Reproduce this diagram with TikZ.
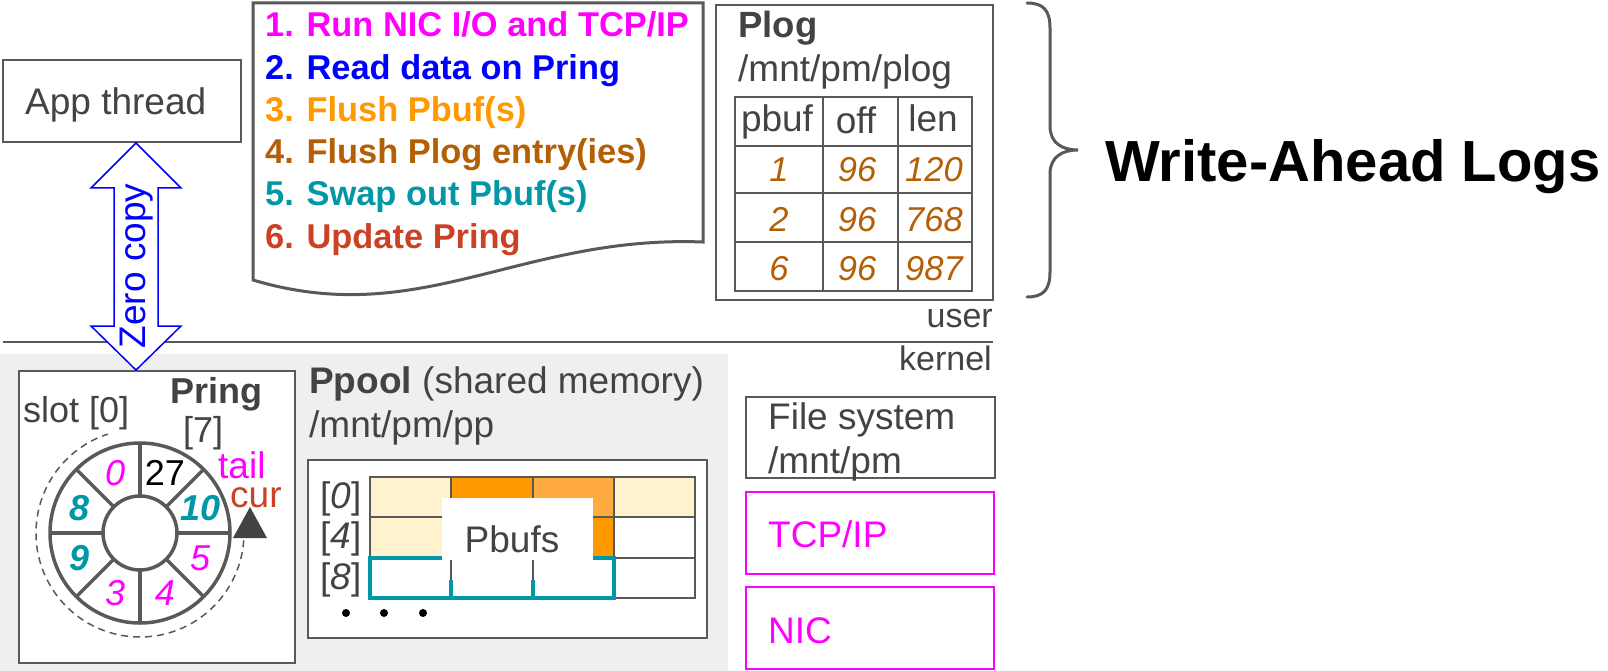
\documentclass[tikz,border=0pt]{standalone}
\usepackage{fontspec}
\setmainfont{Liberation Sans}
\usetikzlibrary{positioning}

\definecolor{txtgray}{HTML}{434343}
\definecolor{linegray}{HTML}{595959}
\definecolor{kernbg}{HTML}{EFEFEF}
\definecolor{pmag}{HTML}{FF00FF}
\definecolor{pblue}{HTML}{0000FF}
\definecolor{porange}{HTML}{FF9900}
\definecolor{plorange}{HTML}{FFAB40}
\definecolor{pcream}{HTML}{FFF2CC}
\definecolor{pbrown}{HTML}{B45F06}
\definecolor{pteal}{HTML}{0097A7}
\definecolor{pred}{HTML}{CC4125}

\begin{document}
\begin{tikzpicture}[
    x=1pt, y=-1pt,
    box/.style={draw=linegray, line width=2pt, fill=white, inner sep=0pt},
    nicbox/.style={draw=pmag, line width=2pt, inner sep=0pt,
      minimum width=248pt, minimum height=82pt},
    txt/.style={font=\fontsize{37}{44}\selectfont, text=txtgray,
      inner sep=0pt, anchor=base west},
    steptxt/.style={font=\fontsize{34.4}{42}\selectfont\bfseries,
      inner sep=0pt, anchor=base west},
    logval/.style={font=\fontsize{34.5}{42}\selectfont\itshape, text=pbrown,
      inner sep=0pt, anchor=base},
    slotm/.style={font=\fontsize{36}{43}\selectfont\itshape, text=pmag, inner sep=0pt},
    slott/.style={font=\fontsize{36}{43}\selectfont\bfseries\itshape, text=pteal, inner sep=0pt},
    slotk/.style={font=\fontsize{36}{43}\selectfont, text=black, inner sep=0pt},
    ringline/.style={draw=linegray, line width=3.5pt},
    cell/.style={draw=linegray, line width=2pt}
  ]
  \useasboundingbox (0,0) rectangle (1608,671);
  \fill[white] (0,0) rectangle (1608,671);

  % kernel side
  \fill[kernbg] (0,354) rectangle (728,671);
  \draw[linegray, line width=2pt] (3,342) -- (993,342);
  \node[txt, anchor=base east, font=\fontsize{34}{40}\selectfont] (user) at (993,327) {user};
  \node[txt, anchor=base east, font=\fontsize{34}{40}\selectfont] (kernel) at (992,370) {kernel};

  % app thread
  \node[box, minimum width=238pt, minimum height=82pt] (app) at (122,101) {};
  \node[txt] (applbl) at (25,115) {App thread};

  % steps
  \draw[linegray, line width=3pt, fill=white] (253,3) -- (703,3) -- (703,242)
    .. controls (520,235) and (420,330) .. (253,280) -- cycle;
  \node[steptxt, text=pmag] (step1) at (265,37) {1. Run NIC I/O and TCP/IP};
  \node[steptxt, text=pblue] (step2) at (265,79.2) {2. Read data on Pring};
  \node[steptxt, text=porange] (step3) at (265,121.4) {3. Flush Pbuf(s)};
  \node[steptxt, text=pbrown] (step4) at (265,163.6) {4. Flush Plog entry(ies)};
  \node[steptxt, text=pteal] (step5) at (265,205.8) {5. Swap out Pbuf(s)};
  \node[steptxt, text=pred] (step6) at (265,248) {6. Update Pring};

  % plog
  \node[box, minimum width=277pt, minimum height=295pt] (plog) at (854.5,152.5) {};
  \node[txt, font=\fontsize{36.5}{43}\selectfont\bfseries] (ploglbl) at (738,38) {Plog};
  \node[txt] (plogpath) at (738,82) {/mnt/pm/plog};
  \draw[cell] (735,97) rectangle (972,291);
  \foreach \x in {823,898} \draw[cell] (\x,97) -- (\x,291);
  \foreach \y in {146,193,242} \draw[cell] (735,\y) -- (972,\y);
  \node[txt, anchor=base] (hpbuf) at (777,132) {pbuf};
  \node[txt, anchor=base] (hoff) at (856,134) {off};
  \node[txt, anchor=base] (hlen) at (933,132) {len};
  \foreach \p/\l [count=\i] in {1/120, 2/768, 6/987} {
    \node[logval] (pb\i) at (779,{133+49*\i}) {\p};
    \node[logval] (off\i) at (857,{133+49*\i}) {96};
    \node[logval] (len\i) at (934,{133+49*\i}) {\l};
  }

  % write-ahead logs
  \draw[linegray, line width=3pt, line cap=round] (1027,3)
    .. controls (1043,3) and (1050,10) .. (1050,28) -- (1050,126)
    .. controls (1050,143) and (1062,150) .. (1078,150)
    .. controls (1062,150) and (1050,157) .. (1050,174) -- (1050,272)
    .. controls (1050,290) and (1043,297) .. (1027,297);
  \node[txt, text=black, font=\fontsize{58}{60}\selectfont\bfseries] (wal) at (1105,182) {Write-Ahead Logs};

  % pring
  \node[box, minimum width=276pt, minimum height=292pt] (pring) at (157,517) {};
  \node[txt, font=\fontsize{36}{43}\selectfont\bfseries] (pringlbl) at (170,403) {Pring};
  \node[txt, font=\fontsize{36}{43}\selectfont] (slot0) at (23,422) {slot [0]};
  \node[txt, font=\fontsize{36}{43}\selectfont] (slot7) at (183,442) {[7]};
  \node[txt, text=pmag] (tail) at (218,478) {tail};
  \node[txt, text=pred] (cur) at (230,507) {cur};
  \coordinate (ring) at (140,533);
  \draw[linegray, line width=1.5pt, dash pattern=on 7pt off 5pt]
    (ring) ++(4:104) arc[start angle=4, end angle=252, radius=104];
  \draw[ringline, fill=white] (ring) circle[radius=90];
  \foreach \a in {0,45,...,315} \draw[ringline] (ring) ++(\a:37) -- ++(\a:53);
  \draw[ringline, fill=white] (ring) circle[radius=37];
  \foreach \a/\t/\s [count=\i] in {-112.5/0/slotm, -67.5/27/slotk, -22.5/10/slott,
      22.5/5/slotm, 67.5/4/slotm, 112.5/3/slotm, 157.5/9/slott, -157.5/8/slott}
    \node[\s] (seg\i) at ([shift={(\a:65)}]ring) {\t};
  \fill[txtgray] (233,538) -- (267,538) -- (250,507) -- cycle;

  % ppool
  \node[txt] (ppoollbl) at (309,393) {\textbf{Ppool} (shared memory)};
  \node[txt] (ppoolpath) at (309,437) {/mnt/pm/pp};
  \node[box, minimum width=399pt, minimum height=178pt] (ppool) at (507.5,549) {};
  \foreach \c/\r/\f in {0/0/pcream, 1/0/porange, 2/0/plorange, 3/0/pcream,
      0/1/pcream, 1/1/porange, 2/1/porange, 3/1/white,
      0/2/white, 1/2/white, 2/2/white, 3/2/white}
    \filldraw[cell, fill=\f] ({370+81.25*\c},{477+40.33*\r}) rectangle ++(81.25,40.33);
  \draw[pteal, line width=3.5pt] (370,558) rectangle (614,598);
  \foreach \x in {451,533} \draw[pteal, line width=3.5pt] (\x,580) -- (\x,598);
  \node[fill=white, inner sep=0pt, minimum width=151pt, minimum height=62pt] (pbufs) at (517.5,529) {};
  \node[txt, anchor=base] (pbufslbl) at (512,552) {Pbufs};
  \foreach \r [count=\i from 0] in {0,4,8}
    \node[txt] (row\r) at (320,{508+40.5*\i}) {[\textit{\r}]};
  \foreach \x in {346,384,423} \fill[black] (\x,613) circle[radius=4];

  % file system, tcp/ip, nic
  \node[box, minimum width=249pt, minimum height=81pt] (fs) at (870.5,437.5) {};
  \node[txt] (fslbl) at (768,429) {File system};
  \node[txt] (fspath) at (768,473) {/mnt/pm};
  \node[nicbox] (tcpip) at (870,533) {};
  \node[txt, text=pmag] (tcpiplbl) at (768,547) {TCP/IP};
  \node[nicbox] (nic) at (870,628) {};
  \node[txt, text=pmag] (niclbl) at (768,643) {NIC};

  % zero copy
  \coordinate (zctop) at (app.south -| 136,0);
  \coordinate (zcbot) at (pring.north -| 136,0);
  \draw[pblue, line width=1.5pt, fill=white] (zctop) -- ++(45,45) -- ++(-23,0)
    |- ([shift={(22,-44)}]zcbot) -- ++(23,0) -- (zcbot) -- ++(-45,-44) -- ++(23,0)
    |- ([shift={(-22,45)}]zctop) -- ++(-23,0) -- cycle;
  \node[txt, text=pblue, rotate=90, anchor=base] (zc) at (145,266) {Zero copy};
\end{tikzpicture}
\end{document}
